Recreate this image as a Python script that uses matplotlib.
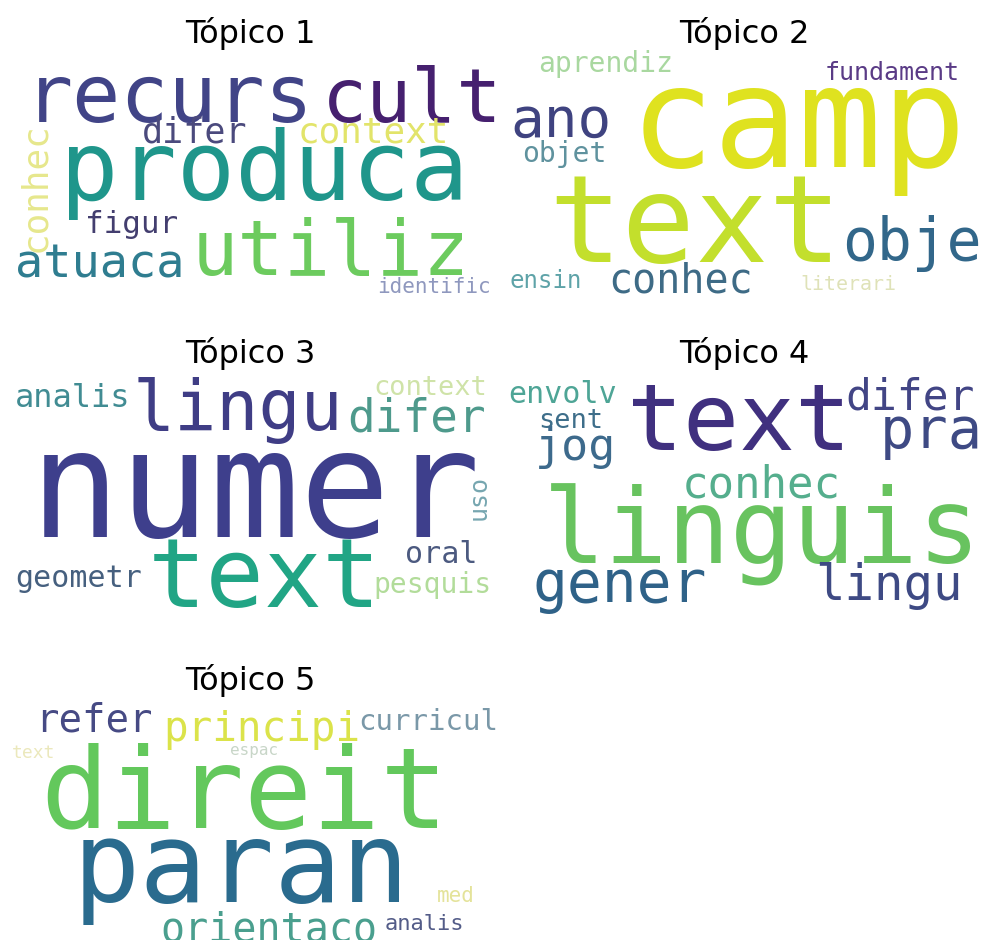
import matplotlib
matplotlib.use("Agg")
import matplotlib.pyplot as plt

W, H = 991, 940
MONO = "DejaVu Sans Mono"

# ── data: words and weights per topic (weight ~ glyph size in px) ─────────────
titles = ["Tópico 1", "Tópico 2", "Tópico 3", "Tópico 4", "Tópico 5"]

t1_words  = ["recurs", "cult", "difer", "context", "produca", "conhec",
             "figur", "utiliz", "atuaca", "identific"]
t1_weight = [80, 75, 35, 36, 97, 36, 31, 77, 47, 21]

t2_words  = ["aprendiz", "fundament", "ano", "camp", "text", "objet",
             "obje", "ensin", "conhec", "literari"]
t2_weight = [28, 25, 56, 140, 122, 28, 58, 24, 40, 20]

t3_words  = ["analis", "lingu", "difer", "context", "numer", "uso",
             "oral", "geometr", "text", "pesquis"]
t3_weight = [32, 70, 46, 27, 150, 25, 30, 30, 97, 28]

t4_words  = ["envolv", "sent", "jog", "text", "difer", "pra",
             "conhec", "linguis", "gener", "lingu"]
t4_weight = [30, 27, 45, 93, 43, 57, 44, 104, 58, 49]

t5_words  = ["refer", "principi", "curricul", "text", "espac", "direit",
             "paran", "orientaco", "med", "analis"]
t5_weight = [39, 41, 29, 18, 16, 113, 112, 40, 21, 22]

# ── layout: (left x, baseline y, rotation) in figure px, and colours ─────────
# rotated words: (baseline x, centre y, 90)
lay1 = [(25, 122, 0), (322, 122, 0), (142, 142, 0), (298, 142, 0),
        (60, 200, 0), (45, 187, 90), (85, 233, 0), (192, 275, 0),
        (15, 277, 0), (377, 293, 0)]
col1 = ["#414487", "#46206f", "#4b4a7d", "#e2e46a", "#1f968b", "#e6e78c",
        "#433e6f", "#6ccb5e", "#2f7d90", "#8f98be"]

lay2 = [(538, 72, 0), (825, 80, 0), (510, 137, 0), (630, 167, 0),
        (548, 262, 0), (522, 162, 0), (842, 260, 0), (510, 288, 0),
        (608, 292, 0), (800, 290, 0)]
col2 = ["#a9d8a0", "#5a3b86", "#3f4380", "#dfe21f", "#c3df2c", "#5f929e",
        "#32678a", "#5ea3a8", "#3e6b86", "#dfe2b8"]

lay3 = [(15, 407, 0), (133, 430, 0), (347, 432, 0), (373, 395, 0),
        (30, 537, 0), (486, 498, 90), (405, 563, 0), (15, 587, 0),
        (148, 607, 0), (373, 593, 0)]
col3 = ["#418c93", "#3f3d85", "#4e9a8c", "#cfe3a8", "#3e3f8c", "#76a6b0",
        "#4c5a80", "#46607f", "#21a585", "#b2dc9a"]

lay4 = [(508, 403, 0), (538, 428, 0), (535, 460, 0), (627, 450, 0),
        (845, 410, 0), (880, 448, 0), (682, 497, 0), (543, 563, 0),
        (532, 602, 0), (815, 600, 0)]
col4 = ["#4ea596", "#3e6e8a", "#3d6a8c", "#40307f", "#424585", "#3e4a84",
        "#55ae8d", "#68c35f", "#2f6288", "#3e4a84"]

lay5 = [(35, 732, 0), (163, 741, 0), (358, 730, 0), (12, 758, 0),
        (230, 755, 0), (40, 828, 0), (73, 902, 0), (160, 941, 0),
        (437, 902, 0), (385, 930, 0)]
col5 = ["#464a84", "#dbe34a", "#7a98a8", "#ebe8bc", "#c8d6c8", "#63c85c",
        "#2a6b8e", "#4a9f8e", "#e4e39a", "#535c88"]

words   = [t1_words, t2_words, t3_words, t4_words, t5_words]
weights = [t1_weight, t2_weight, t3_weight, t4_weight, t5_weight]
layouts = [lay1, lay2, lay3, lay4, lay5]
colours = [col1, col2, col3, col4, col5]

# panel boxes in figure px: (x0, y0, x1, y1), origin top-left
boxes = [(5, 50, 495, 305), (500, 50, 988, 305),
         (5, 370, 495, 625), (500, 370, 988, 625),
         (5, 697, 495, 940)]

fig = plt.figure(figsize=(W / 100, H / 100), dpi=100)
fig.patch.set_facecolor("white")

for k, (x0, y0, x1, y1) in enumerate(boxes):
    ax = fig.add_axes([x0 / W, 1 - y1 / H, (x1 - x0) / W, (y1 - y0) / H])
    ax.set_xlim(x0, x1)
    ax.set_ylim(y1, y0)
    ax.axis("off")
    ax.set_title(titles[k], fontsize=23, color="black", pad=3.5,
                 family="DejaVu Sans")
    for w, s, (x, y, rot), c in zip(words[k], weights[k], layouts[k], colours[k]):
        if rot:
            ax.text(x, y, w, fontsize=s * 0.72, family=MONO, color=c,
                    rotation=rot, ha="center", va="baseline",
                    rotation_mode="anchor", clip_on=False)
        else:
            ax.text(x, y, w, fontsize=s * 0.72, family=MONO, color=c,
                    ha="left", va="baseline", clip_on=False)

fig.savefig("out.png", dpi=100, facecolor="white")
